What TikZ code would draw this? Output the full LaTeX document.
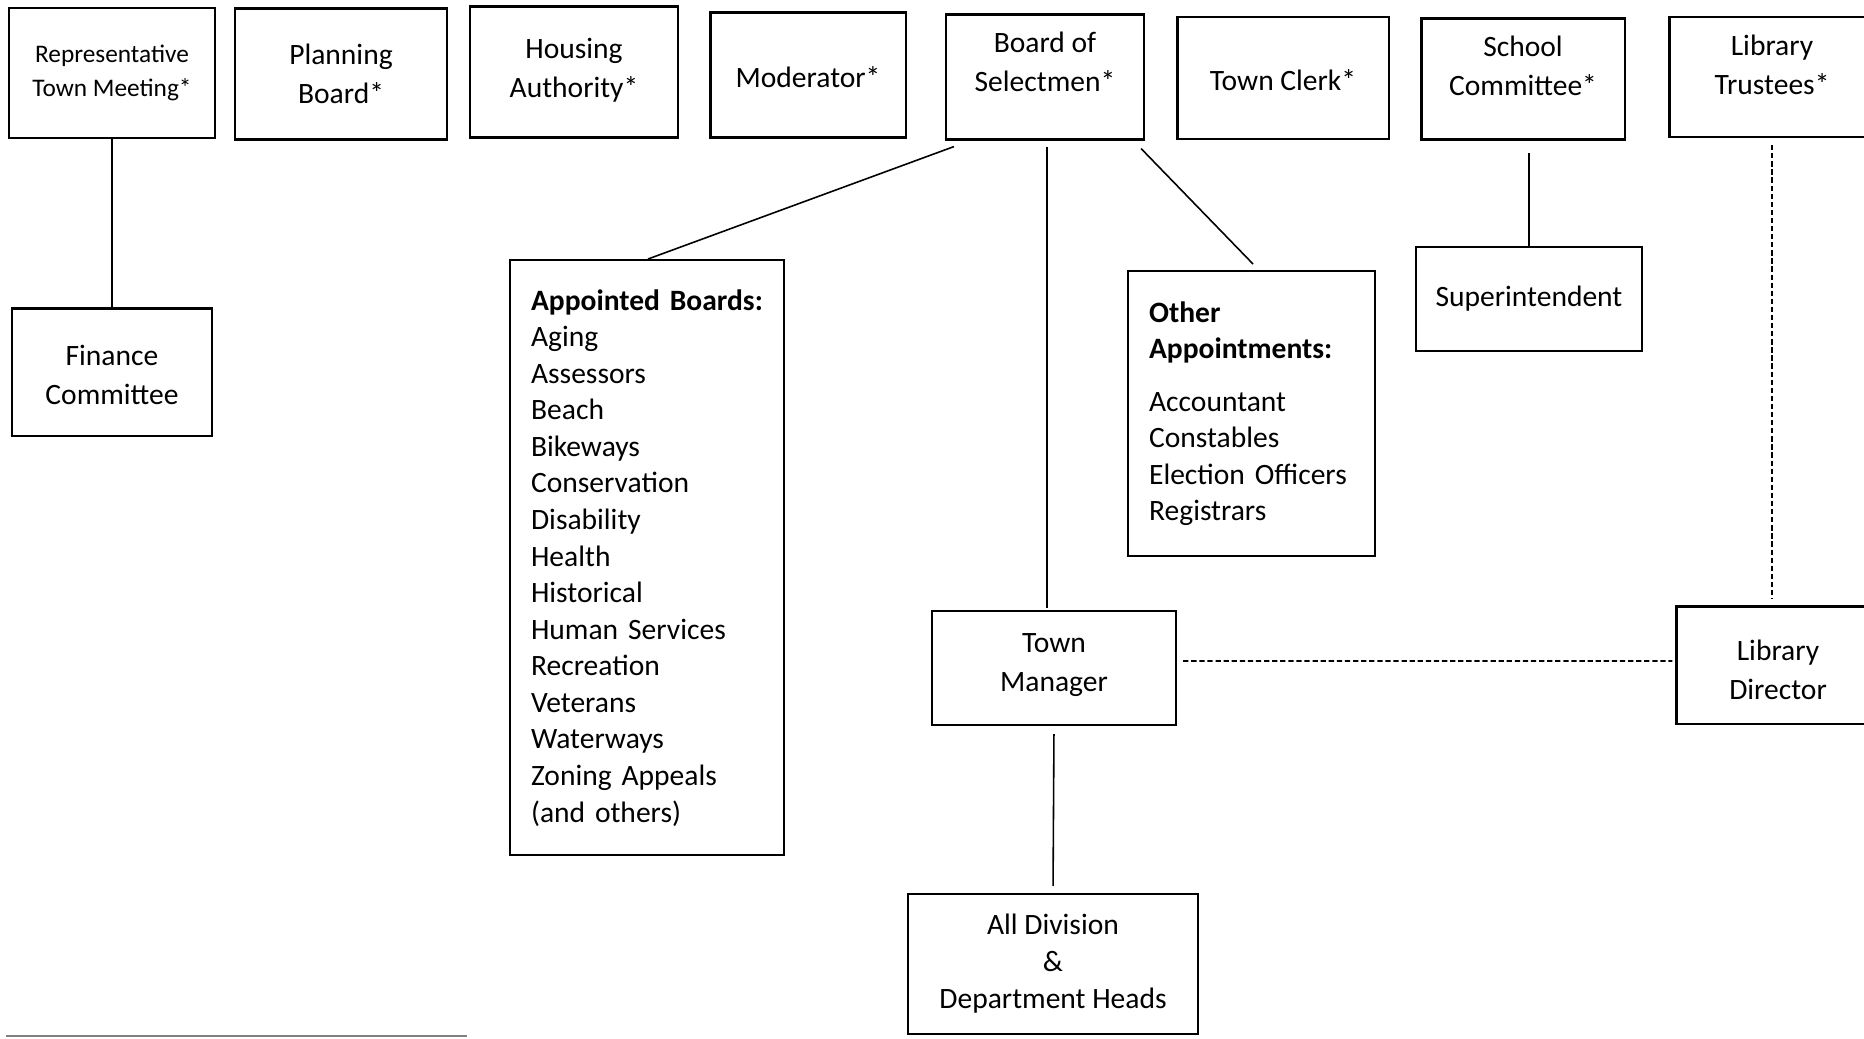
\documentclass[tikz,border=0pt]{standalone}
\usepackage{fontspec}
\setmainfont{Carlito}
\usetikzlibrary{calc}
\newcommand{\orgshift}[2]{\raisebox{#1}[\height][\depth]{\begin{tabular}{@{}c@{}}#2\end{tabular}}}
\tikzset{
    org-box/.style = {draw, line width=0.6pt, rectangle, align=center, inner sep=2pt, font=\fontsize{8.4}{11.2}\selectfont},
    org-list/.style = {org-box, align=left, anchor=north west, inner xsep=0.21cm, font=\fontsize{8.4}{10.4}\selectfont},
    org-line/.style = {line width=0.45pt},
    org-dash/.style = {line width=0.45pt, dash pattern=on 1.5pt off 0.8pt},
}

\begin{document}
\begin{tikzpicture}[x=0.01cm, y=-0.01cm]
\clip (0,0) rectangle (1864,1038);
\fill[white] (0,0) rectangle (1864,1038);

\node[org-box, minimum width=2.05cm, minimum height=1.30cm, font=\fontsize{7.2}{9.5}\selectfont] (rtm) at (112,73) {Representative\\Town Meeting*};
\node[org-box, minimum width=2.12cm, minimum height=1.31cm] (plan) at (341,74) {Planning\\Board*};
\node[org-box, minimum width=2.08cm, minimum height=1.31cm] (hous) at (574,72) {\orgshift{0.02cm}{Housing\\Authority*}};
\node[org-box, minimum width=1.95cm, minimum height=1.25cm] (mod) at (808,75) {\orgshift{-0.05cm}{Moderator*}};
\node[org-box, minimum width=1.98cm, minimum height=1.25cm] (bos) at (1045,77) {\orgshift{0.13cm}{Board of\\Selectmen*}};
\node[org-box, minimum width=2.11cm, minimum height=1.22cm] (clerk) at (1283,78) {\orgshift{-0.05cm}{Town Clerk*}};
\node[org-box, minimum width=2.03cm, minimum height=1.21cm] (school) at (1523,79) {\orgshift{0.11cm}{School\\Committee*}};
\node[org-box, minimum width=2.05cm, minimum height=1.20cm] (lt) at (1772,77) {\orgshift{0.10cm}{Library\\Trustees*}};

\node[org-box, minimum width=1.99cm, minimum height=1.27cm] (fin) at (112,372) {\orgshift{-0.05cm}{Finance\\Committee}};
\node[org-list, text width=2.32cm, minimum height=5.95cm] (ab) at (509,259) {\textbf{Appointed Boards:}\\Aging\\Assessors\\Beach\\Bikeways\\Conservation\\Disability\\Health\\Historical\\Human Services\\Recreation\\Veterans\\Waterways\\Zoning Appeals\\(and others)};
\node[org-list, text width=2.05cm, minimum height=2.85cm] (other) at (1127,270) {\textbf{Other}\\\textbf{Appointments:}\\[4.5pt]Accountant\\Constables\\Election Officers\\Registrars};
\node[org-box, minimum width=2.26cm, minimum height=1.04cm] (super) at (1529,299) {Superintendent};
\node[org-box, minimum width=2.44cm, minimum height=1.14cm] (tm) at (1054,668) {\orgshift{0.04cm}{Town\\Manager}};
\node[org-box, minimum width=2.03cm, minimum height=1.17cm] (ld) at (1778,665) {\orgshift{-0.07cm}{Library\\Director}};
\node[org-box, minimum width=2.89cm, minimum height=1.40cm, font=\fontsize{8.4}{10.5}\selectfont] (all) at (1053,964) {All Division\\\&\\Department Heads};

\draw[org-line] (rtm.south) -- (fin.north);
\draw[org-line] ($(bos.south west)+(9,6)$) -- ($(ab.north west)+(139,0)$);
\draw[org-line] ($(bos.south)+(2,6)$) -- ($(tm.north)+(-7,-2)$);
\draw[org-line] ($(bos.south east)+(-4,8)$) -- ($(other.north west)+(126,-6)$);
\draw[org-line, shorten >=0.12cm] (super.north) -- (super.north |- school.south);
\draw[org-dash, shorten <=0.07cm, shorten >=0.06cm] (lt.south) -- (lt.south |- ld.north);
\draw[org-dash, shorten <=0.06cm, shorten >=0.03cm] ([yshift=0.07cm]tm.east) -- ([yshift=0.04cm]ld.west);
\draw[org-line, shorten <=0.08cm, shorten >=0.07cm] (tm.south) -- (all.north);

\draw[gray, line width=0.6pt] (6,1036) -- (467,1036);
\end{tikzpicture}
\end{document}
